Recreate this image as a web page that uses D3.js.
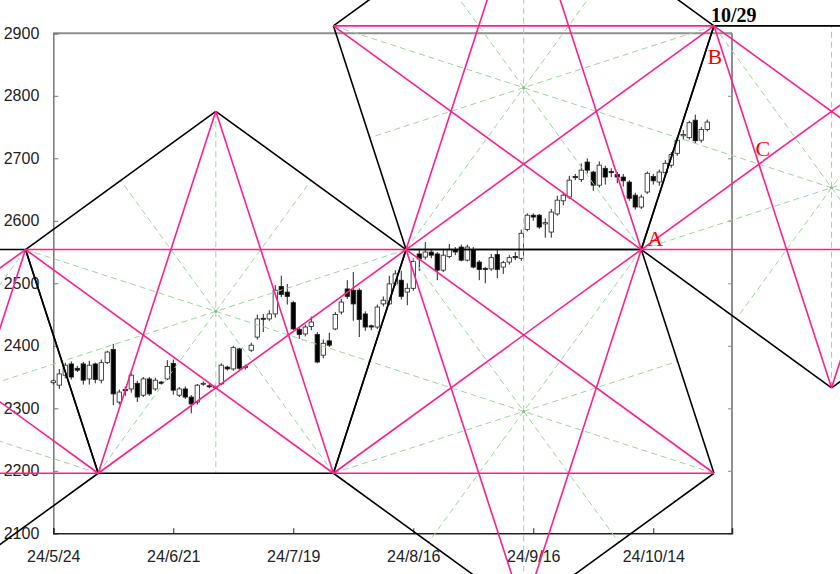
<!DOCTYPE html>
<html><head><meta charset="utf-8">
<script src="https://cdn.jsdelivr.net/npm/d3@7"></script>
<style>body{margin:0;background:#fff}svg{display:block}</style>
</head><body>
<svg id="c" width="840" height="574"></svg>
<script>
// ---- data (trading-day index 0 = 24/5/24) ----
const open  = [2341,2337,2353,2371,2364,2371,2347,2371,2345,2373,2394,2310,2330,2331,2340,2321,2347,2331,2342,2347,
               2372,2321,2331,2318,2310,2339,2336,2334,2339,2366,2363,2395,2365,2393,2414,2444,2443,2451,2495,2486,
               2469,2426,2419,2431,2418,2385,2408,2427,2454,2491,2489,2489,2451,2432,2430,2467,2467,2499,2505,2486,
               2492,2547,2542,2550,2547,2521,2543,2554,2558,2537,2554,2534,2524,2523,2546,2526,2534,2543,2540,2586,
               2609,2609,2595,2582,2611,2632,2638,2671,2666,2694,2678,2657,2684,2679,2674,2670,2662,2641,2622,2646,
               2671,2662,2677,2689,2708,2736,2733,2761,2729,2746];
const high  = [2346,2363,2373,2375,2368,2374,2376,2373,2378,2392,2403,2330,2335,2356,2344,2350,2350,2349,2344,2377,
               2378,2334,2335,2321,2339,2343,2340,2338,2372,2368,2400,2397,2370,2405,2450,2451,2457,2497,2512,2499,
               2472,2430,2434,2447,2422,2410,2421,2454,2475,2505,2518,2492,2455,2434,2466,2479,2512,2521,2520,2500,
               2540,2555,2566,2553,2550,2553,2563,2558,2562,2562,2558,2537,2526,2547,2553,2536,2545,2550,2586,2612,
               2612,2611,2604,2619,2640,2645,2672,2675,2692,2700,2680,2695,2688,2684,2678,2675,2665,2645,2642,2679,
               2675,2682,2697,2710,2733,2745,2760,2770,2750,2762];
const low   = [2338,2331,2348,2346,2358,2338,2338,2340,2340,2371,2305,2306,2320,2325,2310,2318,2320,2328,2338,2345,
               2322,2318,2315,2292,2306,2336,2332,2331,2337,2360,2360,2360,2362,2390,2410,2422,2440,2445,2478,2466,
               2425,2411,2415,2425,2372,2380,2398,2425,2450,2475,2440,2414,2424,2425,2427,2463,2465,2496,2474,2465,
               2488,2520,2538,2540,2505,2518,2540,2545,2535,2535,2524,2505,2500,2520,2508,2515,2530,2537,2536,2583,
               2600,2587,2573,2573,2608,2625,2635,2665,2662,2676,2648,2653,2658,2670,2660,2655,2632,2618,2619,2643,
               2658,2656,2672,2685,2704,2730,2730,2723,2725,2743];
const close = [2344,2355,2369,2350,2361,2345,2369,2346,2373,2390,2323,2326,2328,2353,2318,2347,2323,2345,2340,2367,
               2329,2331,2318,2307,2337,2340,2335,2335,2369,2363,2397,2364,2367,2401,2443,2443,2451,2489,2482,2479,
               2427,2418,2430,2438,2374,2404,2401,2450,2470,2479,2467,2442,2430,2430,2462,2473,2499,2515,2479,2492,
               2535,2539,2550,2545,2521,2545,2554,2550,2537,2558,2526,2522,2522,2541,2522,2533,2541,2541,2580,2609,
               2606,2590,2597,2614,2633,2641,2665,2669,2681,2681,2657,2689,2670,2677,2670,2664,2636,2622,2638,2676,
               2664,2678,2692,2706,2729,2738,2757,2728,2746,2758];
const tickDays   = [0,20,40,60,80,100];
const tickLabels = ["24/5/24","24/6/21","24/7/19","24/8/16","24/9/16","24/10/14"];
const priceTicks = [2100,2200,2300,2400,2500,2600,2700,2800,2900];
// base edge of the pentagon construction (day index, price)
const edgeDays   = [58.8, 98];
const edgePrices = [2554, 2554];
const pointNames = ["A","B","C"];
const projDate   = "10/29";

// ---- scales ----
const x = d3.scaleLinear().domain([0,113.12]).range([53.3,732]);
const y = d3.scaleLinear().domain([2100,2900]).range([533.3,33.3]);
const svg = d3.select("#c");
const PINK="#ff1f8c", GREEN="#9ed39e";
const tf="'Liberation Sans Narrow','Liberation Sans',sans-serif";

// ---- frame & axes ----
const fr = svg.append("g");
fr.append("line").attr("x1",x.range()[0]).attr("x2",x.range()[1]).attr("y1",y(2900)).attr("y2",y(2900)).attr("stroke","#8e8e8e").attr("stroke-width",2);
fr.append("line").attr("x1",x.range()[1]).attr("x2",x.range()[1]).attr("y1",y(2900)).attr("y2",y(2100)).attr("stroke","#8e8e8e").attr("stroke-width",2);
const yAx = d3.axisLeft(y).tickValues(priceTicks).tickSize(-5).tickPadding(14).tickFormat(d3.format("d"));
const gy = svg.append("g").attr("transform",`translate(${x.range()[0]},0)`).call(yAx);
gy.select(".domain").attr("stroke","#777").attr("stroke-width",1.5);
gy.selectAll(".tick line").attr("stroke","#777");
gy.selectAll("text").attr("font-family",tf).attr("font-size",16).attr("fill","#222");
const gyr = svg.append("g").attr("transform",`translate(${x.range()[1]},0)`).call(d3.axisRight(y).tickValues(priceTicks).tickSize(-4).tickFormat(""));
gyr.select(".domain").remove(); gyr.selectAll(".tick line").attr("stroke","#8e8e8e");
const xAx = d3.axisBottom(x).tickValues(tickDays).tickSize(-5).tickPadding(17).tickFormat((d,i)=>tickLabels[i]);
const gx = svg.append("g").attr("transform",`translate(0,${y(2100)})`).call(xAx);
gx.select(".domain").attr("stroke","#222").attr("stroke-width",1.5);
gx.selectAll(".tick line").attr("stroke","#222");
gx.selectAll("text").attr("font-family",tf).attr("font-size",16).attr("fill","#222");

// ---- candles ----
const cd = open.map((o,i)=>({i,o,h:high[i],l:low[i],c:close[i]}));
const bw = 4.4;
const cg = svg.append("g");
cg.selectAll("line.w").data(cd).join("line").attr("class","w")
  .attr("x1",d=>x(d.i)).attr("x2",d=>x(d.i)).attr("y1",d=>y(d.h)).attr("y2",d=>y(d.l))
  .attr("stroke","#222").attr("stroke-width",1);
cg.selectAll("rect").data(cd).join("rect")
  .attr("x",d=>x(d.i)-bw/2).attr("width",bw)
  .attr("y",d=>y(Math.max(d.o,d.c))).attr("height",d=>Math.max(1,Math.abs(y(d.o)-y(d.c))))
  .attr("fill",d=>d.c>=d.o?"#fff":"#000").attr("stroke","#222").attr("stroke-width",0.8);

// ---- pentagon construction ----
function rot(v,deg){const a=deg*Math.PI/180;return [v[0]*Math.cos(a)-v[1]*Math.sin(a), v[0]*Math.sin(a)+v[1]*Math.cos(a)];}
function pent(P,Q,s){const v=[P,Q];let d=[Q[0]-P[0],Q[1]-P[1]];for(let k=0;k<3;k++){d=rot(d,s*72);const L=v[v.length-1];v.push([L[0]+d[0],L[1]+d[1]]);}return v;}
const P0=[x(edgeDays[0]),y(edgePrices[0])], P1=[x(edgeDays[1]),y(edgePrices[1])];
const U = pent(P0,P1,-1);
const D = pent(P0,P1,1);
const R1 = pent(U[2],U[1],-1);
const L1 = pent(D[0],D[4],1);
const L2 = pent(L1[3],L1[2],1);
const pents=[L2,L1,D,U,R1];
const og = svg.append("g").attr("fill","none");
const mid=(a,b)=>[(a[0]+b[0])/2,(a[1]+b[1])/2];
pents.forEach(v=>{
  for(let i=0;i<5;i++){
    const m=mid(v[(i+2)%5],v[(i+3)%5]);
    og.append("line").attr("x1",v[i][0]).attr("y1",v[i][1]).attr("x2",m[0]).attr("y2",m[1])
      .attr("stroke",GREEN).attr("stroke-width",1).attr("stroke-dasharray","6,4");
  }
  const c=[d3.mean(v,p=>p[0]),d3.mean(v,p=>p[1])];
  og.append("circle").attr("cx",c[0]).attr("cy",c[1]).attr("r",1.5).attr("fill","#7fbf7f");
});
pents.forEach(v=>{
  for(let i=0;i<5;i++){
    const a=v[i],b=v[(i+1)%5];
    og.append("line").attr("x1",a[0]).attr("y1",a[1]).attr("x2",b[0]).attr("y2",b[1]).attr("stroke","#000").attr("stroke-width",1.6);
  }
});
pents.forEach(v=>{
  for(let i=0;i<5;i++){
    const a=v[i],b=v[(i+2)%5];
    og.append("line").attr("x1",a[0]).attr("y1",a[1]).attr("x2",b[0]).attr("y2",b[1]).attr("stroke",PINK).attr("stroke-width",1.6);
  }
});

// ---- labels ----
function inter(a,b,c,d){const r=[b[0]-a[0],b[1]-a[1]],s=[d[0]-c[0],d[1]-c[1]];const den=r[0]*s[1]-r[1]*s[0];const t=((c[0]-a[0])*s[1]-(c[1]-a[1])*s[0])/den;return [a[0]+t*r[0],a[1]+t*r[1]];}
const A=R1[1], B=R1[0], C=inter(R1[0],R1[2],R1[4],R1[1]);
const lf="'Liberation Serif','Times New Roman',serif";
svg.append("text").attr("x",A[0]+6).attr("y",A[1]-4).text(pointNames[0]).attr("font-family",lf).attr("font-size",22).attr("fill","#ff0000");
svg.append("text").attr("x",B[0]+1).attr("y",B[1]+38).attr("text-anchor","middle").text(pointNames[1]).attr("font-family",lf).attr("font-size",22).attr("fill","#ff0000");
svg.append("text").attr("x",C[0]+4).attr("y",C[1]-8).attr("text-anchor","middle").text(pointNames[2]).attr("font-family",lf).attr("font-size",22).attr("fill","#ff0000");
svg.append("text").attr("x",B[0]-3).attr("y",B[1]-4).text(projDate).attr("font-family",lf).attr("font-weight","bold").attr("font-size",20).attr("fill","#000");
</script>
</body></html>
